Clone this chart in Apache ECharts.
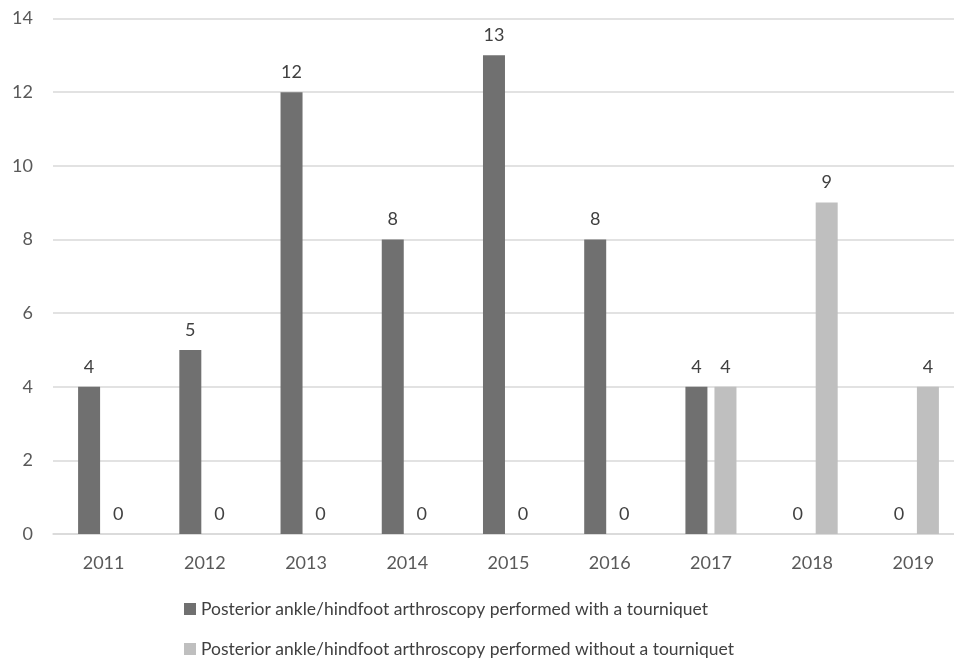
<!DOCTYPE html>
<html><head><meta charset="utf-8">
<script src="https://cdn.jsdelivr.net/npm/echarts@6/dist/echarts.min.js"></script>
<style>html,body{margin:0;padding:0;background:#fff}#c{width:954px;height:660px}</style>
</head><body><div id="c"></div>
<script>
const categories = ['2011','2012','2013','2014','2015','2016','2017','2018','2019'];
const withTourniquet = [4,5,12,8,13,8,4,0,0];
const withoutTourniquet = [0,0,0,0,0,0,4,9,4];
const yTicks = [0,2,4,6,8,10,12,14];
const seriesNames = ['Posterior ankle/hindfoot arthroscopy performed with a tourniquet','Posterior ankle/hindfoot arthroscopy performed without a tourniquet'];
const FONT = 'Lato';
const chart = echarts.init(document.getElementById('c'));
const lbl = {show:true, position:'top', distance:11, color:'#404040', fontSize:18, fontFamily:FONT};
const legendBase = {orient:'vertical', left:184, itemWidth:12, itemHeight:12, padding:0, icon:'rect',
    textStyle:{fontSize:17.5, color:'#404040', fontFamily:FONT, lineHeight:20}};
chart.setOption({
  animation:false,
  textStyle:{fontFamily:FONT},
  grid:{left:53, top:18.5, width:911, height:515.5, containLabel:false, outerBoundsMode:'none'},
  legend:[
    Object.assign({}, legendBase, {top:599, data:[seriesNames[0]]}),
    Object.assign({}, legendBase, {top:639, data:[seriesNames[1]]})
  ],
  xAxis:{type:'category', data:categories, axisTick:{show:false},
    axisLine:{lineStyle:{color:'#d9d9d9', width:1.5}},
    axisLabel:{color:'#595959', fontSize:18, margin:20, fontFamily:FONT}},
  yAxis:{type:'value', min:yTicks[0], max:yTicks[yTicks.length-1], interval:2,
    axisLine:{show:false}, axisTick:{show:false},
    splitLine:{lineStyle:{color:'#d9d9d9', width:1.5}},
    axisLabel:{color:'#595959', fontSize:18, margin:20, fontFamily:FONT}},
  series:[
    {name:seriesNames[0], type:'bar', data:withTourniquet, barWidth:22, barGap:'32%', itemStyle:{color:'#707070'}, label:lbl},
    {name:seriesNames[1], type:'bar', data:withoutTourniquet, barWidth:22, itemStyle:{color:'#bfbfbf'}, label:lbl}
  ]
});
</script></body></html>
